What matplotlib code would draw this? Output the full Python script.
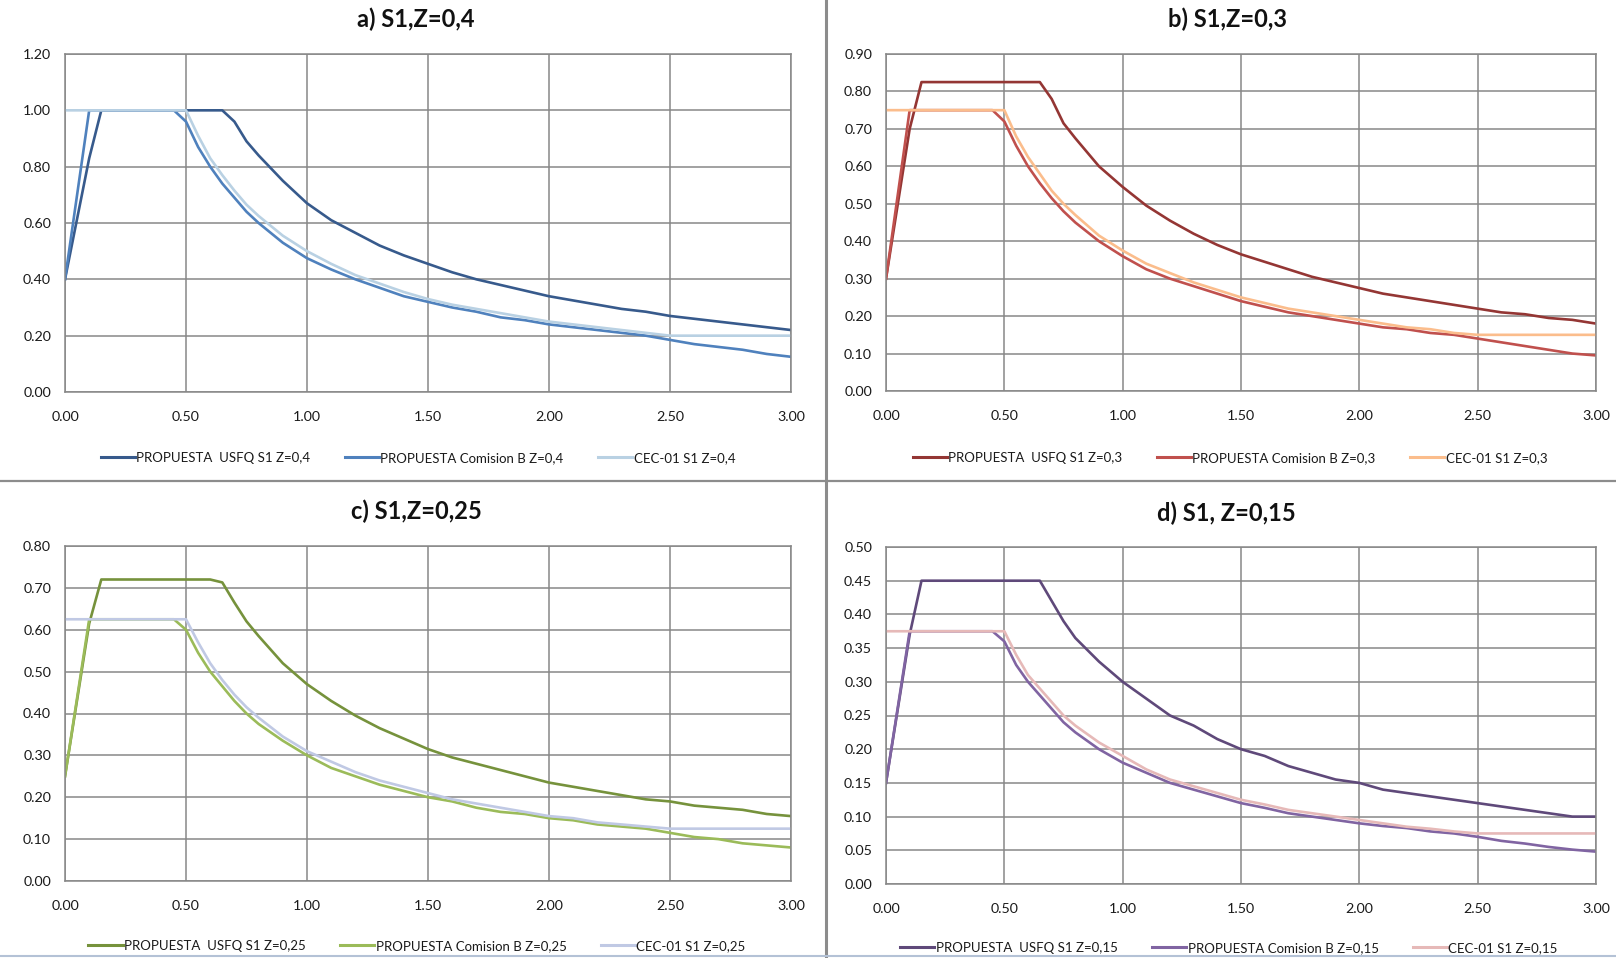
import matplotlib
matplotlib.use("Agg")
import matplotlib.pyplot as plt
from matplotlib.lines import Line2D

plt.rcParams['font.family'] = ['Lato', 'DejaVu Sans']

# periods (s) at which each series is tabulated
T_usfq = [0.0, 0.1, 0.15, 0.6, 0.65, 0.7, 0.75, 0.8, 0.9, 1.0, 1.1, 1.2, 1.3, 1.4, 1.5,
          1.6, 1.7, 1.8, 1.9, 2.0, 2.1, 2.2, 2.3, 2.4, 2.5, 2.6, 2.7, 2.8, 2.9, 3.0]
T_comb = [0.0, 0.1, 0.45, 0.5, 0.55, 0.6, 0.65, 0.7, 0.75, 0.8, 0.9, 1.0, 1.1, 1.2, 1.3,
          1.4, 1.5, 1.6, 1.7, 1.8, 1.9, 2.0, 2.1, 2.2, 2.3, 2.4, 2.5, 2.6, 2.7, 2.8, 2.9, 3.0]
T_cec = [0.0, 0.5, 0.55, 0.6, 0.65, 0.7, 0.75, 0.8, 0.9, 1.0, 1.1, 1.2, 1.3, 1.4, 1.5,
         1.6, 1.7, 1.8, 1.9, 2.0, 2.1, 2.2, 2.3, 2.4, 2.5, 3.0]

# a) Z=0,4
usfq_a = [0.40, 0.83, 1.00, 1.00, 1.00, 0.96, 0.89, 0.84, 0.75, 0.67, 0.61, 0.565, 0.52, 0.485, 0.455,
          0.425, 0.40, 0.38, 0.36, 0.34, 0.325, 0.31, 0.295, 0.285, 0.27, 0.26, 0.25, 0.24, 0.23, 0.22]
comb_a = [0.40, 1.00, 1.00, 0.96, 0.87, 0.80, 0.74, 0.69, 0.64, 0.60, 0.53, 0.475, 0.435, 0.40, 0.37,
          0.34, 0.32, 0.30, 0.285, 0.265, 0.255, 0.24, 0.23, 0.22, 0.21, 0.20, 0.185, 0.17, 0.16, 0.15, 0.135, 0.125]
cec_a = [1.00, 1.00, 0.91, 0.83, 0.77, 0.715, 0.665, 0.625, 0.555, 0.50, 0.455, 0.415, 0.385, 0.355, 0.33,
         0.31, 0.295, 0.28, 0.265, 0.25, 0.24, 0.23, 0.22, 0.21, 0.20, 0.20]

# b) Z=0,3
usfq_b = [0.30, 0.70, 0.825, 0.825, 0.825, 0.78, 0.715, 0.675, 0.60, 0.545, 0.495, 0.455, 0.42, 0.39, 0.365,
          0.345, 0.325, 0.305, 0.29, 0.275, 0.26, 0.25, 0.24, 0.23, 0.22, 0.21, 0.205, 0.195, 0.19, 0.18]
comb_b = [0.30, 0.75, 0.75, 0.72, 0.655, 0.60, 0.555, 0.515, 0.48, 0.45, 0.40, 0.36, 0.325, 0.30, 0.28,
          0.26, 0.24, 0.225, 0.21, 0.20, 0.19, 0.18, 0.17, 0.165, 0.155, 0.15, 0.14, 0.13, 0.12, 0.11, 0.10, 0.095]
cec_b = [0.75, 0.75, 0.68, 0.625, 0.58, 0.535, 0.50, 0.47, 0.415, 0.375, 0.34, 0.315, 0.29, 0.27, 0.25,
         0.235, 0.22, 0.21, 0.20, 0.19, 0.18, 0.17, 0.165, 0.155, 0.15, 0.15]

# c) Z=0,25
usfq_c = [0.25, 0.615, 0.72, 0.72, 0.713, 0.665, 0.62, 0.585, 0.52, 0.47, 0.43, 0.395, 0.365, 0.34, 0.315,
          0.295, 0.28, 0.265, 0.25, 0.235, 0.225, 0.215, 0.205, 0.195, 0.19, 0.18, 0.175, 0.17, 0.16, 0.155]
comb_c = [0.25, 0.625, 0.625, 0.60, 0.545, 0.50, 0.465, 0.43, 0.40, 0.375, 0.335, 0.30, 0.27, 0.25, 0.23,
          0.215, 0.20, 0.19, 0.175, 0.165, 0.16, 0.15, 0.145, 0.135, 0.13, 0.125, 0.115, 0.105, 0.10, 0.09, 0.085, 0.08]
cec_c = [0.625, 0.625, 0.57, 0.52, 0.48, 0.445, 0.415, 0.39, 0.345, 0.31, 0.285, 0.26, 0.24, 0.225, 0.21,
         0.195, 0.185, 0.175, 0.165, 0.155, 0.15, 0.14, 0.135, 0.13, 0.125, 0.125]

# d) Z=0,15
usfq_d = [0.15, 0.37, 0.45, 0.45, 0.45, 0.42, 0.39, 0.365, 0.33, 0.30, 0.275, 0.25, 0.235, 0.215, 0.20,
          0.19, 0.175, 0.165, 0.155, 0.15, 0.14, 0.135, 0.13, 0.125, 0.12, 0.115, 0.11, 0.105, 0.10, 0.10]
comb_d = [0.15, 0.375, 0.375, 0.36, 0.325, 0.30, 0.28, 0.26, 0.24, 0.225, 0.20, 0.18, 0.165, 0.15, 0.14,
          0.13, 0.12, 0.113, 0.105, 0.10, 0.095, 0.09, 0.086, 0.083, 0.078, 0.075, 0.07, 0.064, 0.06, 0.055, 0.051, 0.048]
cec_d = [0.375, 0.375, 0.34, 0.31, 0.29, 0.27, 0.25, 0.235, 0.21, 0.19, 0.17, 0.155, 0.145, 0.135, 0.125,
         0.118, 0.11, 0.105, 0.10, 0.095, 0.09, 0.085, 0.082, 0.078, 0.075, 0.075]

titles = ["a) S1,Z=0,4", "b) S1,Z=0,3", "c) S1,Z=0,25", "d) S1, Z=0,15"]
zlabels = ["0,4", "0,3", "0,25", "0,15"]
y_max = [1.2, 0.9, 0.8, 0.5]
y_step = [0.2, 0.1, 0.1, 0.05]
series = [(usfq_a, comb_a, cec_a), (usfq_b, comb_b, cec_b),
          (usfq_c, comb_c, cec_c), (usfq_d, comb_d, cec_d)]
colors = [("#375a8c", "#4f81bd", "#b9d1e3"),
          ("#943634", "#c0504d", "#fbbd8c"),
          ("#76923c", "#9bbb59", "#c0c9e4"),
          ("#5f497a", "#8064a2", "#e6b9b8")]

W, H = 1616, 958
fig = plt.figure(figsize=(W / 100, H / 100), dpi=100)

# pixel boxes: left, right, top, bottom
boxes = [(65, 791, 54, 392), (886, 1596, 54, 391), (65, 791, 546, 881), (886, 1596, 547, 884)]
title_pos = [(416, 19), (1228, 19), (416, 511), (1226, 513)]
legend_pos = [(418, 458), (1230, 458), (417, 946), (1229, 948)]

grid_c = "#878787"
for i in range(4):
    l, r, t, b = boxes[i]
    ax = fig.add_axes([l / W, 1 - b / H, (r - l) / W, (b - t) / H])
    usfq, comb, cec = series[i]
    c1, c2, c3 = colors[i]
    ax.plot(T_usfq, usfq, color=c1, lw=1.9, solid_joinstyle='round')
    ax.plot(T_comb, comb, color=c2, lw=1.9, solid_joinstyle='round')
    ax.plot(T_cec, cec, color=c3, lw=1.9, solid_joinstyle='round')
    ax.set_xlim(0, 3)
    ax.set_ylim(0, y_max[i])
    ax.set_xticks([0, 0.5, 1, 1.5, 2, 2.5, 3])
    n = int(round(y_max[i] / y_step[i]))
    ax.set_yticks([k * y_step[i] for k in range(n + 1)])
    ax.xaxis.set_major_formatter(lambda v, p: f"{v:.2f}")
    ax.yaxis.set_major_formatter(lambda v, p: f"{v:.2f}")
    ax.grid(True, color=grid_c, lw=1.1)
    ax.set_axisbelow(True)
    for s in ax.spines.values():
        s.set_color(grid_c)
        s.set_linewidth(1.1)
    ax.tick_params(length=0, labelsize=10.3, colors="#1a1a1a")
    ax.tick_params(axis='x', pad=14)
    ax.tick_params(axis='y', pad=10)

    fig.text(title_pos[i][0] / W, 1 - title_pos[i][1] / H, titles[i], ha='center', va='center',
             fontsize=17, fontweight='bold', color="#111111")

    z = zlabels[i]
    handles = [Line2D([], [], color=c1, lw=2.2), Line2D([], [], color=c2, lw=2.2), Line2D([], [], color=c3, lw=2.2)]
    labels = [f"PROPUESTA  USFQ S1 Z={z}", f"PROPUESTA Comision B Z={z}", f"CEC-01 S1 Z={z}"]
    fig.legend(handles, labels, loc='center', ncol=3, frameon=False, fontsize=9.5,
               bbox_to_anchor=(legend_pos[i][0] / W, 1 - legend_pos[i][1] / H),
               handlelength=2.6, handletextpad=0.1, columnspacing=2.6, labelcolor="#1a1a1a")

# panel separators
fig.add_artist(Line2D([825.5 / W, 825.5 / W], [0, 1], color="#8c8c8c", lw=2.2))
fig.add_artist(Line2D([0, 1], [1 - 481 / H, 1 - 481 / H], color="#8c8c8c", lw=1.6))
fig.add_artist(Line2D([0, 1], [1 - 956 / H, 1 - 956 / H], color="#b4c2d6", lw=1.5))

fig.savefig("out.png", dpi=100, facecolor="white")
